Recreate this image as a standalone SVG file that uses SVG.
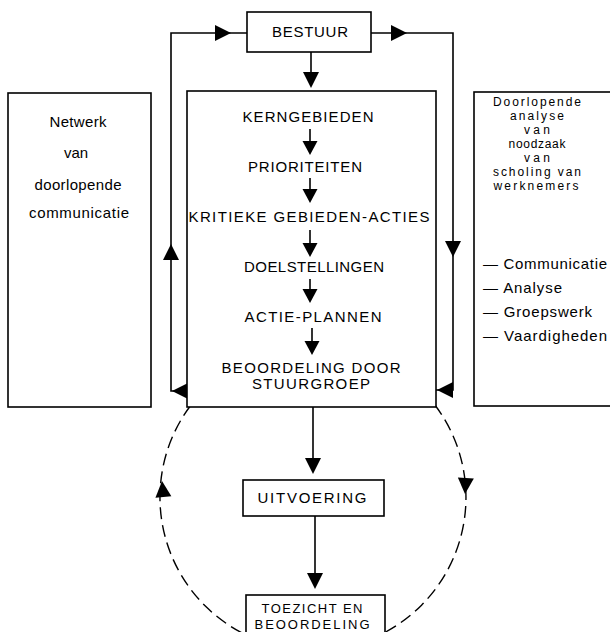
<svg xmlns="http://www.w3.org/2000/svg" xmlns:xlink="http://www.w3.org/1999/xlink" width="610" height="632" viewBox="0 0 610 632">
<style>
.box{fill:#fff;stroke:#000;stroke-width:1.6}
.t{font-family:"Liberation Sans",Arial,sans-serif;font-size:15px;fill:#000;text-anchor:middle}
.s{font-size:12px}
.m{font-size:13px}
.l{text-anchor:start}
.ln{fill:none;stroke:#000;stroke-width:1.6}
.dash{fill:none;stroke:#000;stroke-width:1.4;stroke-dasharray:12 6}
.ah{fill:#000}
</style>
<defs>
<path id="tri" d="M-8,-16 L8,-16 L0,0 Z"/>
<path id="tris" d="M-7.5,-14 L7.5,-14 L0,0 Z"/>
</defs>
<rect width="610" height="632" fill="#fff"/>

<g id="connectors">
<path class="dash" d="M 202 392 A 153 153 0 1 0 422 390"/>
<use class="ah" href="#tri" transform="translate(162,481) rotate(175)"/>
<use class="ah" href="#tri" transform="translate(465,494) rotate(3)"/>
<line class="ln" x1="311" y1="52" x2="311" y2="76"/>
<use class="ah" href="#tri" transform="translate(311,88)"/>
<polyline class="ln" points="188,391 171,391 171,33 247,33"/>
<use class="ah" href="#tri" transform="translate(172,391) rotate(90)"/>
<use class="ah" href="#tri" transform="translate(171,244) rotate(180)"/>
<use class="ah" href="#tri" transform="translate(231,33) rotate(-90)"/>
<polyline class="ln" points="371,33 453,33 453,390 436,390"/>
<use class="ah" href="#tri" transform="translate(407,33) rotate(-90)"/>
<use class="ah" href="#tri" transform="translate(453,257)"/>
<use class="ah" href="#tri" transform="translate(437,390) rotate(90)"/>
<line class="ln" x1="313" y1="397" x2="313" y2="462"/>
<use class="ah" href="#tri" transform="translate(313,474)"/>
<line class="ln" x1="315" y1="516" x2="315" y2="577"/>
<use class="ah" href="#tri" transform="translate(315,589)"/>
</g>

<g id="bestuur">
<rect class="box" x="247" y="12" width="124" height="40"/>
<text class="t" x="310" y="37" textLength="76">BESTUUR</text>
</g>

<g id="main">
<rect class="box" x="187" y="91" width="249" height="316"/>
<text class="t" x="308" y="122" textLength="131">KERNGEBIEDEN</text>
<line class="ln" x1="310" y1="129" x2="310" y2="145"/>
<use class="ah" href="#tris" transform="translate(310,155)"/>
<text class="t" x="305" y="172" textLength="114">PRIORITEITEN</text>
<line class="ln" x1="310" y1="178" x2="310" y2="193"/>
<use class="ah" href="#tris" transform="translate(310,203)"/>
<text class="t" x="309" y="222" textLength="241">KRITIEKE GEBIEDEN-ACTIES</text>
<line class="ln" x1="310" y1="230" x2="310" y2="247"/>
<use class="ah" href="#tris" transform="translate(310,257)"/>
<text class="t" x="314" y="272" textLength="140">DOELSTELLINGEN</text>
<line class="ln" x1="310" y1="279" x2="310" y2="293"/>
<use class="ah" href="#tris" transform="translate(310,303)"/>
<text class="t" x="313" y="322" textLength="137">ACTIE-PLANNEN</text>
<line class="ln" x1="312" y1="328" x2="312" y2="345"/>
<use class="ah" href="#tris" transform="translate(312,355)"/>
<text class="t" x="311" y="373" textLength="179">BEOORDELING DOOR</text>
<text class="t" x="311" y="389" textLength="118">STUURGROEP</text>
</g>

<g id="uitvoering">
<rect class="box" x="243" y="480" width="141" height="36"/>
<text class="t" x="312" y="503" textLength="109">UITVOERING</text>
</g>

<g id="toezicht">
<rect class="box" x="246" y="595" width="139" height="45"/>
<text class="t m" x="312" y="613" textLength="101">TOEZICHT EN</text>
<text class="t m" x="312" y="629" textLength="115">BEOORDELING</text>
</g>

<g id="netwerk">
<rect class="box" x="8" y="93" width="143" height="314"/>
<text class="t" x="78" y="127" textLength="57">Netwerk</text>
<text class="t" x="76" y="158" textLength="24">van</text>
<text class="t" x="78" y="190" textLength="87">doorlopende</text>
<text class="t" x="79" y="218" textLength="100">communicatie</text>
</g>

<g id="scholing">
<rect class="box" x="474" y="92" width="145" height="314"/>
<text class="t s" x="537" y="106" textLength="88">Doorlopende</text>
<text class="t s" x="537" y="120" textLength="54">analyse</text>
<text class="t s" x="537" y="134" textLength="26">van</text>
<text class="t s" x="537" y="148" textLength="57">noodzaak</text>
<text class="t s" x="537" y="162" textLength="26">van</text>
<text class="t s" x="537" y="176" textLength="88">scholing van</text>
<text class="t s" x="536" y="190" textLength="85">werknemers</text>
<text class="t l" x="483" y="269" textLength="124">— Communicatie</text>
<text class="t l" x="483" y="293" textLength="79">— Analyse</text>
<text class="t l" x="483" y="317" textLength="109">— Groepswerk</text>
<text class="t l" x="483" y="341" textLength="124">— Vaardigheden</text>
</g>
</svg>
